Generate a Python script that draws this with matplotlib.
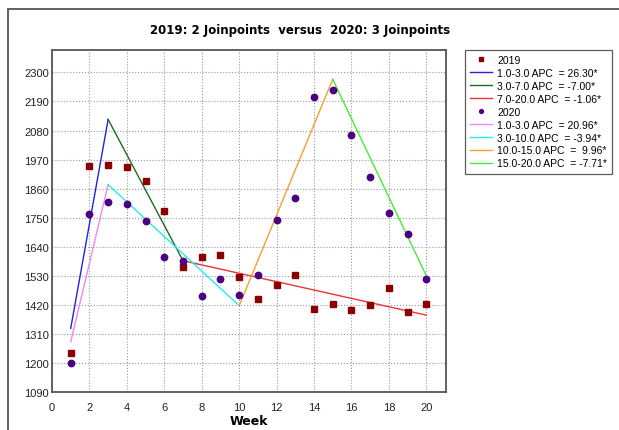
"""Joinpoint comparison of weekly counts, 2019 versus 2020"""
import matplotlib
matplotlib.use('Agg')
import matplotlib.pyplot as plt
from matplotlib.patches import Rectangle

# observed weekly values
weeks = list(range(1, 21))
obs_2019 = [1238, 1945, 1950, 1942, 1890, 1774, 1563, 1600, 1607, 1525,
            1442, 1495, 1533, 1404, 1423, 1400, 1419, 1484, 1393, 1423]
obs_2020 = [1200, 1765, 1810, 1801, 1737, 1600, 1585, 1452, 1518, 1457,
            1533, 1742, 1824, 2208, 2234, 2063, 1905, 1769, 1689, 1519]

# joinpoint segments (week at joinpoints, fitted value at joinpoints)
jp_weeks_2019 = [1, 3, 7, 20]
jp_fit_2019 = [1331, 2122, 1587, 1381]
seg_labels_2019 = ['1.0-3.0 APC  = 26.30*', '3.0-7.0 APC  = -7.00*',
                   '7.0-20.0 APC  = -1.06*']
seg_colors_2019 = ['#2222dd', '#1f6b1f', '#ee3333']

jp_weeks_2020 = [1, 3, 10, 15, 20]
jp_fit_2020 = [1280, 1875, 1417, 2274, 1530]
seg_labels_2020 = ['1.0-3.0 APC  = 20.96*', '3.0-10.0 APC  = -3.94*',
                   '10.0-15.0 APC  =  9.96*', '15.0-20.0 APC  = -7.71*']
seg_colors_2020 = ['#ee88ee', '#22eeee', '#f5a030', '#44ee33']

yticks = [1090, 1200, 1310, 1420, 1530, 1640, 1750, 1860, 1970, 2080, 2190, 2300]
xticks = list(range(0, 21, 2))

plt.rcParams['font.family'] = ['Liberation Sans', 'DejaVu Sans']

fig = plt.figure(figsize=(6.19, 4.31), dpi=100)
ax = fig.add_axes([0.084, 0.0882, 0.6365, 0.7935])

handles = []
# 2019
h, = ax.plot(weeks, obs_2019, 's', color='#8b0000', markersize=5,
             zorder=5, label='2019')
handles.append(h)
for i in range(len(jp_weeks_2019) - 1):
    h, = ax.plot(jp_weeks_2019[i:i + 2], jp_fit_2019[i:i + 2],
                 color=seg_colors_2019[i], lw=1, label=seg_labels_2019[i])
    handles.append(h)
# 2020
h, = ax.plot(weeks, obs_2020, 'o', color='#4b0082', markersize=4.6,
             zorder=5, label='2020')
handles.append(h)
for i in range(len(jp_weeks_2020) - 1):
    h, = ax.plot(jp_weeks_2020[i:i + 2], jp_fit_2020[i:i + 2],
                 color=seg_colors_2020[i], lw=1, label=seg_labels_2020[i])
    handles.append(h)

ax.set_xlim(0, 21.05)
ax.set_ylim(1090, 2385)
ax.set_xticks(xticks)
ax.set_yticks(yticks)
ax.tick_params(length=0, labelsize=8, colors='#222222')
ax.tick_params(axis='x', pad=7)
ax.tick_params(axis='y', pad=2)
ax.grid(True, linestyle=':', color='#999999', lw=0.8)
for s in ax.spines.values():
    s.set_color('#555555')
    s.set_linewidth(1.3)

ax.set_title('2019: 2 Joinpoints  versus  2020: 3 Joinpoints',
             fontsize=8.5, fontweight='bold', family='DejaVu Sans',
             x=0.63, pad=12)
ax.set_xlabel('Week', fontsize=9, fontweight='bold', family='DejaVu Sans',
              labelpad=2)

leg = fig.legend(handles=handles, loc='upper left',
                 bbox_to_anchor=(0.751, 0.882), bbox_transform=fig.transFigure,
                 borderaxespad=0, fontsize=7.5, frameon=True, fancybox=False,
                 labelspacing=0.28, handlelength=2.1, handletextpad=0.5,
                 borderpad=0.5, markerscale=0.6)
leg.get_frame().set_edgecolor('#333333')
leg.get_frame().set_linewidth(0.9)

# outer frame of the picture
fig.patches.append(Rectangle((8 / 619, -0.1), 1.2, 421 / 431 + 0.1,
                             transform=fig.transFigure, fill=False,
                             edgecolor='#555555', lw=1.3))

fig.savefig('out.png', dpi=100)
